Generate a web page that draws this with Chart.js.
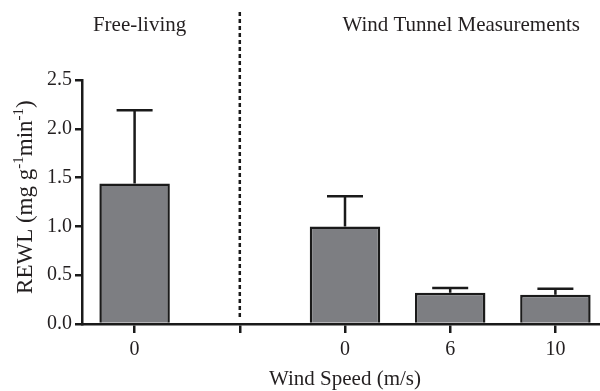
<!DOCTYPE html>
<html>
<head>
<meta charset="utf-8">
<script src="https://cdn.jsdelivr.net/npm/chart.js@4"></script>
<style>
  html, body { margin: 0; padding: 0; background: #fff; overflow: hidden; }
  #wrap { width: 608px; height: 391px; }
</style>
</head>
<body>
<div id="wrap"><canvas id="grafico"></canvas></div>
<script>
// dados
const categorias = ['0', '', '0', '6', '10'];
const valores = [1.44, 0, 1.0, 0.32, 0.30];
const errosTopo = [2.19, null, 1.31, 0.37, 0.36];
const grupos = ['Free-living', 'Wind Tunnel Measurements'];
const ticksY = [0, 0.5, 1.0, 1.5, 2.0, 2.5];

const fonte = '"Liberation Serif", "Times New Roman", serif';
const corTexto = '#231f20';
const corLinha = '#1a1a1a';

// título do eixo y com sobrescritos
function tituloY(ctx, cx, cy) {
    const partes = [
        ['REWL (mg g', false], ['-1', true], ['min', false], ['-1', true], [')', false]
    ];
    const fNormal = '23px ' + fonte;
    const fSup = '15px ' + fonte;
    let total = 0;
    partes.forEach(p => {
        ctx.font = p[1] ? fSup : fNormal;
        total += ctx.measureText(p[0]).width;
    });
    ctx.save();
    ctx.translate(cx, cy);
    ctx.rotate(-Math.PI / 2);
    ctx.fillStyle = corTexto;
    ctx.textBaseline = 'alphabetic';
    ctx.textAlign = 'left';
    let pos = -total / 2;
    partes.forEach(p => {
        ctx.font = p[1] ? fSup : fNormal;
        ctx.fillText(p[0], pos, p[1] ? -1 : 8);
        pos += ctx.measureText(p[0]).width;
    });
    ctx.restore();
}

// barras de erro + linha tracejada + rótulos dos grupos
const extras = {
    id: 'extras',
    afterDatasetsDraw(chart) {
        const ctx = chart.ctx;
        const x = chart.scales.x;
        const y = chart.scales.y;
        ctx.save();
        ctx.strokeStyle = corLinha;
        ctx.lineWidth = 2.5;
        errosTopo.forEach((e, i) => {
            if (e === null) return;
            const cx = x.getPixelForValue(i);
            const y0 = y.getPixelForValue(valores[i]);
            const y1 = y.getPixelForValue(e);
            ctx.beginPath();
            ctx.moveTo(cx, y0);
            ctx.lineTo(cx, y1);
            ctx.moveTo(cx - 18, y1);
            ctx.lineTo(cx + 18, y1);
            ctx.stroke();
        });
        // linha tracejada separando os grupos
        const xs = x.getPixelForValue(1);
        ctx.setLineDash([4, 3]);
        ctx.beginPath();
        ctx.moveTo(xs, 12);
        ctx.lineTo(xs, y.getPixelForValue(0) - 6);
        ctx.stroke();
        ctx.setLineDash([]);
        ctx.fillStyle = corTexto;
        ctx.font = '21px ' + fonte;
        ctx.textAlign = 'center';
        ctx.textBaseline = 'middle';
        ctx.fillText(grupos[0], x.getPixelForValue(0) + 5, 25);
        ctx.fillText(grupos[1], (x.getPixelForValue(2) + x.getPixelForValue(4)) / 2 + 11, 25);
        ctx.restore();
        tituloY(ctx, 24, y.getPixelForValue(1.3));
    }
};

function gerarGrafico() {
    const config = {
        type: 'bar',
        data: {
            labels: categorias,
            datasets: [{
                data: valores,
                backgroundColor: '#7d7e82',
                borderColor: corLinha,
                borderWidth: 2.5,
                barPercentage: 0.67,
                categoryPercentage: 1
            }]
        },
        options: {
            responsive: true,
            maintainAspectRatio: false,
            animation: false,
            layout: { padding: { top: 80, left: 40, right: 0, bottom: 0 } },
            plugins: {
                legend: { display: false },
                tooltip: { enabled: false }
            },
            scales: {
                x: {
                    offset: true,
                    afterFit: s => { s.height = 67; },
                    grid: { drawOnChartArea: false, offset: false, color: corLinha, lineWidth: 2.5, tickLength: 9 },
                    border: { color: corLinha, width: 2.5 },
                    ticks: { color: corTexto, font: { family: fonte, size: 20 }, padding: 5 },
                    title: { display: true, text: 'Wind Speed (m/s)', color: corTexto, font: { family: fonte, size: 21 }, padding: { top: 0, bottom: -1 } }
                },
                y: {
                    min: 0,
                    max: 2.5,
                    afterFit: s => { s.width = 42; },
                    afterBuildTicks: scale => { scale.ticks = ticksY.map(v => ({ value: v })); },
                    grid: { drawOnChartArea: false, color: corLinha, lineWidth: 2.5, tickLength: 7 },
                    border: { color: corLinha, width: 2.5 },
                    ticks: { color: corTexto, font: { family: fonte, size: 20 }, padding: 3, callback: v => v.toFixed(1) }
                }
            }
        },
        plugins: [extras]
    };
    const ctx = document.getElementById('grafico').getContext('2d');
    window.meuGrafico = new Chart(ctx, config);
}

gerarGrafico();
</script>
</body>
</html>
